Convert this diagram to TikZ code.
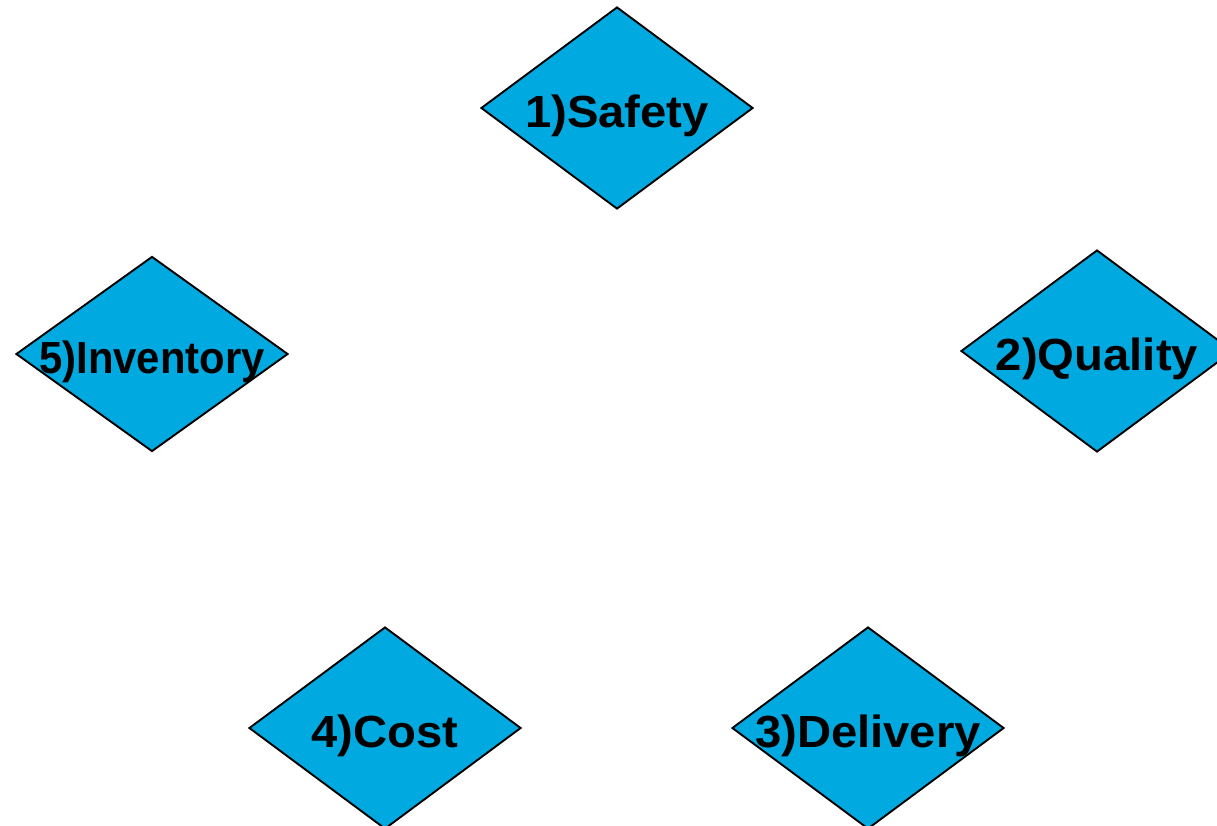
\documentclass[tikz,border=0pt]{standalone}
\usepackage{fontspec}
\setmainfont{Liberation Sans}
\newfontfamily\kpifont[FakeStretch=1.05]{Liberation Sans}
\newfontfamily\kpinarrow[FakeStretch=0.93]{Liberation Sans}
\usepackage{xcolor}
\usetikzlibrary{shapes.geometric}
\definecolor{kpiblue}{RGB}{0,169,224}

\begin{document}
\begin{tikzpicture}[x=1pt,y=1pt,
    kpibox/.style={draw, diamond, fill=kpiblue, line width=1.9pt, inner sep=0pt, minimum width=272pt, minimum height=202pt},
    kpitext/.style={anchor=base, font=\kpifont\fontsize{45}{50}\selectfont\bfseries, inner sep=0pt}]
            \useasboundingbox (0,0) rectangle (1217,-825);

            \node (safety) [kpibox] at (617,-108) {};
            \node (quality) [kpibox] at (1097,-351) {};
            \node (delivery) [kpibox] at (868,-728) {};
            \node (cost) [kpibox] at (385,-728) {};
            \node (inventory) [kpibox, minimum height=195pt] at (152,-354) {};

            \node (safetytext) [kpitext] at ([yshift=-19pt]safety.center) {1)Safety};
            \node (qualitytext) [kpitext] at ([yshift=-19pt]quality.center) {2)Quality};
            \node (deliverytext) [kpitext] at ([yshift=-19pt]delivery.center) {3)Delivery};
            \node (costtext) [kpitext] at ([yshift=-19pt]cost.center) {4)Cost};
            \node (inventorytext) [kpitext, font=\kpinarrow\fontsize{45}{50}\selectfont\bfseries] at ([yshift=-19pt]inventory.center) {5)Inventory};
        \end{tikzpicture}
\end{document}
